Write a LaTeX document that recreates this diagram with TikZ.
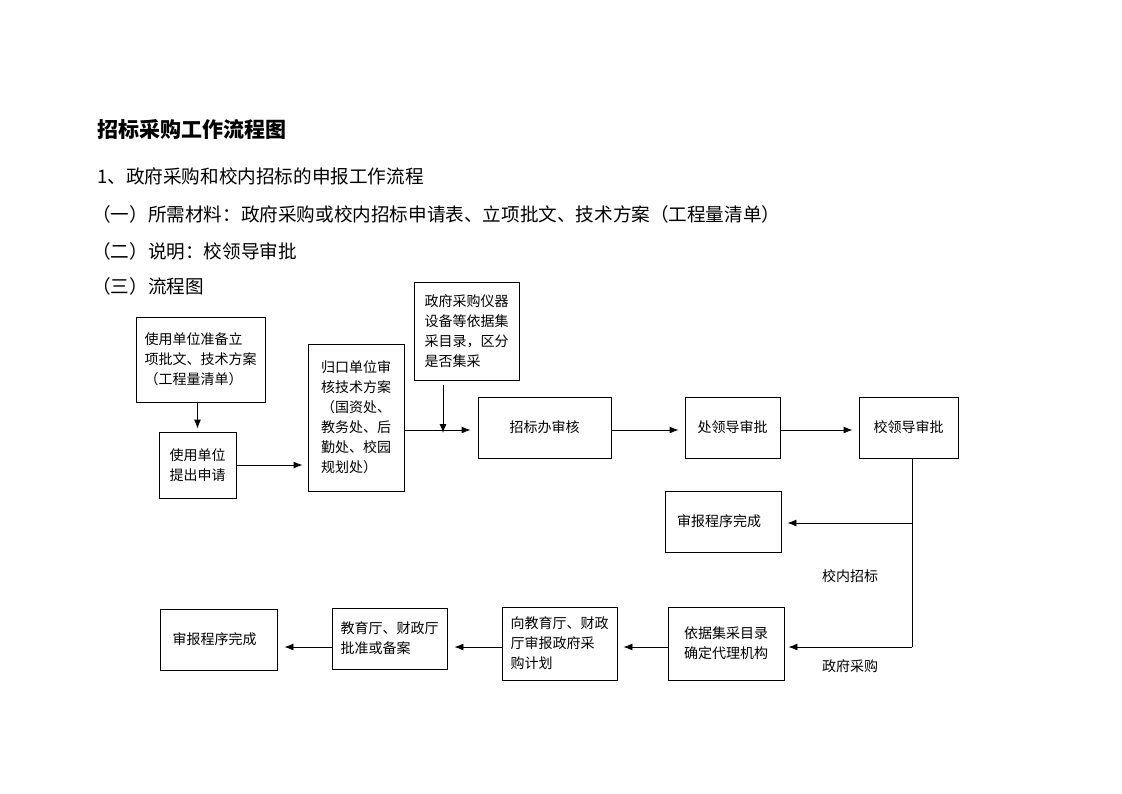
\documentclass[tikz,border=0pt]{standalone}
\usepackage{fontspec}
\setmainfont{Noto Sans CJK SC}
\usetikzlibrary{arrows.meta}
\begin{document}
\begin{tikzpicture}[x=1pt,y=-1pt,
  box/.style={draw,line width=0.9pt,inner sep=0pt,align=left,font=\fontsize{14}{20}\selectfont},
  arr/.style={line width=0.9pt,-{Latex[length=9pt,width=7pt]}},
  ln/.style={line width=0.9pt},
  hdr/.style={anchor=west,inner sep=0pt,font=\fontsize{18.6}{22}\selectfont},
  lbl/.style={inner sep=0pt,font=\fontsize{14}{18}\selectfont}]
\useasboundingbox (0,0) rectangle (1122,793);
% header texts
\node[hdr,font=\fontsize{21}{24}\selectfont\bfseries] (t0) at (97,129) {招标采购工作流程图};
\node[hdr] (t1) at (97,176) {1、政府采购和校内招标的申报工作流程};
\node[hdr] (t2) at (92,214) {（一）所需材料：政府采购或校内招标申请表、立项批文、技术方案（工程量清单）};
\node[hdr] (t3) at (92,251) {（二）说明：校领导审批};
\node[hdr] (t4) at (92,286) {（三）流程图};
% boxes
\node[box,minimum width=129pt,minimum height=85pt] (A) at (200.5,359.5) {使用单位准备立\\项批文、技术方案\\（工程量清单）};
\node[box,minimum width=77pt,minimum height=66pt] (B) at (197.5,465) {使用单位\\提出申请};
\node[box,minimum width=96pt,minimum height=147pt] (C) at (356,417.5) {归口单位审\\核技术方案\\（国资处、\\教务处、后\\勤处、校园\\规划处）};
\node[box,minimum width=105pt,minimum height=98pt] (D) at (466.5,331) {政府采购仪器\\设备等依据集\\采目录，区分\\是否集采};
\node[box,minimum width=133pt,minimum height=61pt] (E) at (544.5,427.5) {招标办审核};
\node[box,minimum width=95pt,minimum height=61pt] (F) at (732.5,427.5) {处领导审批};
\node[box,minimum width=99pt,minimum height=61pt] (G) at (908.5,427.5) {校领导审批};
\node[box,minimum width=116pt,minimum height=61pt] (H) at (723,521.5) {审报程序完成\hspace*{8pt}};
\node[box,minimum width=116pt,minimum height=73pt] (I) at (726,643.5) {依据集采目录\\确定代理机构};
\node[box,minimum width=115pt,minimum height=73pt] (J) at (559.5,643.5) {向教育厅、财政\\厅审报政府采\\购计划};
\node[box,minimum width=115pt,minimum height=61pt] (K) at (389.5,638.5) {教育厅、财政厅\\批准或备案};
\node[box,minimum width=117pt,minimum height=61pt] (L) at (218.5,639.5) {审报程序完成\hspace*{8pt}};
% labels
\node[lbl] (l1) at (850,576) {校内招标};
\node[lbl] (l2) at (850,666) {政府采购};
% junction coordinates
\coordinate (dj) at (443,430);
\coordinate (g1) at (912,523);
\coordinate (g2) at (912,647);
% connectors
\draw[arr,shorten >=3pt] (A.south -| B.north) -- (B.north);
\draw[arr,shorten >=5pt] (B.east) -- (B.east -| C.west);
\draw[arr,shorten >=7pt] (C.east |- dj) -- (E.west |- dj);
\draw[arr,shorten <=5pt] (D.south -| dj) -- ([yshift=-3pt]dj);
\draw[arr,shorten >=6pt] (E.east |- dj) -- (F.west |- dj);
\draw[arr,shorten >=6pt] (F.east |- dj) -- (G.west |- dj);
\draw[ln] (G.south -| g1) -- (g2);
\draw[arr,shorten >=6pt] (g1) -- (g1 -| H.east);
\draw[arr,shorten >=4pt] (g2) -- (g2 -| I.east);
\draw[arr,shorten >=6pt] (I.west |- g2) -- (J.east |- g2);
\draw[arr,shorten >=7pt] (J.west |- g2) -- (K.east |- g2);
\draw[arr,shorten >=7pt] (K.west |- g2) -- (L.east |- g2);
\end{tikzpicture}
\end{document}
